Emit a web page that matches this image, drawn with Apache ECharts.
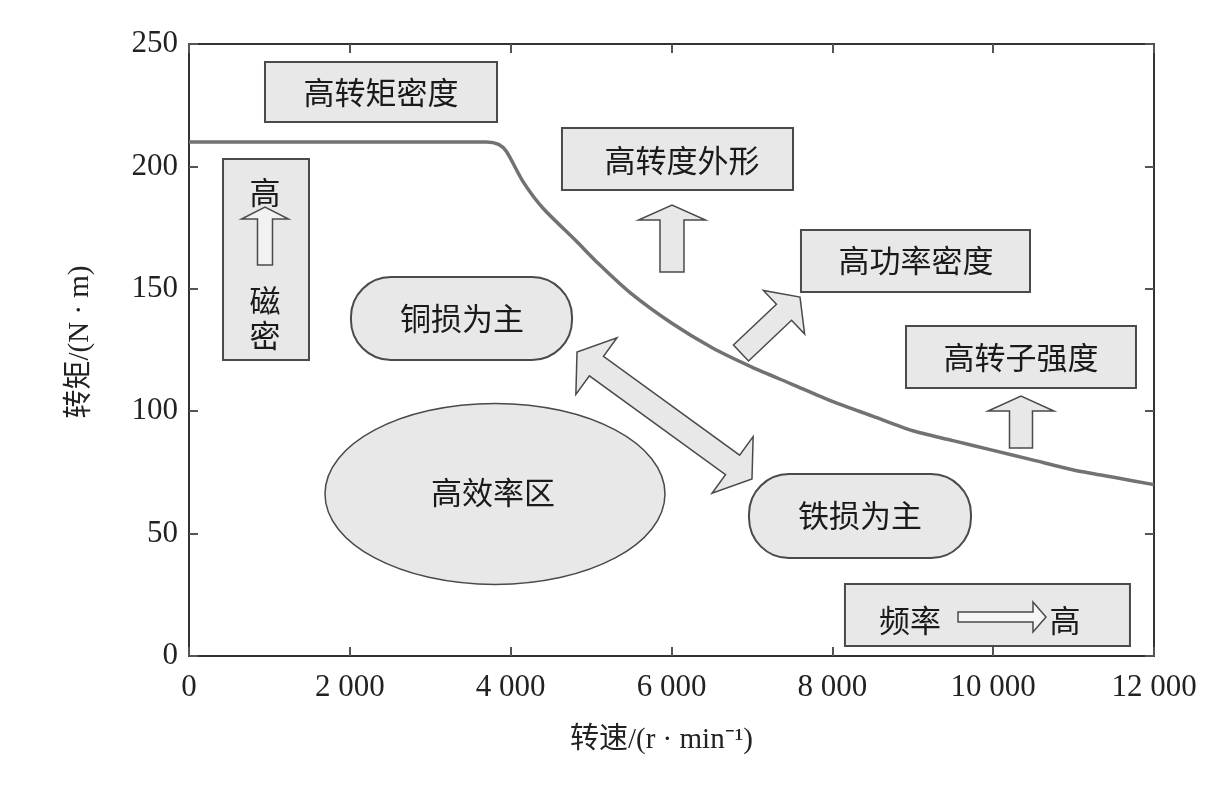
<!DOCTYPE html>
<html>
<head>
<meta charset="utf-8">
<script src="https://cdn.jsdelivr.net/npm/echarts@6/dist/echarts.min.js"></script>
<style>
  html, body { margin: 0; padding: 0; background: #fff; }
  #chart { width: 1221px; height: 790px; }
</style>
</head>
<body>
<div id="chart"></div>
<script>
// 外特性曲线 (转速 r/min, 转矩 N·m)
var speedPts = [0, 3700, 3850, 3950, 4150, 4400, 4800, 5100, 5500, 6000, 6500, 7000, 7500, 8000, 8500, 9000, 9500, 10000, 10500, 11000, 11500, 12000]
var torquePts = [210, 210, 209, 206, 194, 183, 170, 160, 148, 136, 126, 118, 111, 104, 98, 92, 88, 84, 80, 76, 73, 70]

var xTicks = [0, 2000, 4000, 6000, 8000, 10000, 12000]
var yTicks = [0, 50, 100, 150, 200, 250]

var xName = '转速/(r · min⁻¹)'
var yName = '转矩/(N · m)'

// 图中标注文字
var boxTexts = ['高转矩密度', '高转度外形', '高功率密度', '高转子强度']
var pillTexts = ['铜损为主', '铁损为主']
var ellipseText = '高效率区'
var fluxTexts = ['高', '磁', '密']
var freqTexts = ['频率', '高']

var chart = echarts.init(document.getElementById('chart'))

var cjk = '"Noto Sans CJK SC", sans-serif'
var fill = '#e8e8e8'
var edge = '#4a4a4a'

// 箭头多边形 (像素坐标)
function arrowPts (p0, p1, w, hw, hl, both) {
  var dx = p1[0] - p0[0], dy = p1[1] - p0[1]
  var len = Math.sqrt(dx * dx + dy * dy)
  var ux = dx / len, uy = dy / len
  var nx = -uy, ny = ux
  function at (t, s) { return [p0[0] + ux * t + nx * s, p0[1] + uy * t + ny * s] }
  var pts = []
  if (both) {
    pts.push(p0, at(hl, hw / 2), at(hl, w / 2))
  } else {
    pts.push(at(0, w / 2))
  }
  pts.push(at(len - hl, w / 2), at(len - hl, hw / 2), p1, at(len - hl, -hw / 2), at(len - hl, -w / 2))
  if (both) {
    pts.push(at(hl, -w / 2), at(hl, -hw / 2))
  } else {
    pts.push(at(0, -w / 2))
  }
  return pts
}

function label (api, x, y, txt, size) {
  var p = api.coord([x, y])
  return {
    type: 'text', x: p[0], y: p[1], z2: 10,
    style: { text: txt, align: 'center', verticalAlign: 'middle', fontSize: size || 31, fontFamily: cjk, fill: '#1a1a1a' }
  }
}

function rectEl (api, x0, y0, x1, y1, r) {
  var a = api.coord([x0, y0]), b = api.coord([x1, y1])
  return {
    type: 'rect',
    shape: { x: Math.min(a[0], b[0]), y: Math.min(a[1], b[1]), width: Math.abs(b[0] - a[0]), height: Math.abs(b[1] - a[1]), r: r || 0 },
    style: { fill: fill, stroke: edge, lineWidth: 2 }
  }
}

function arrowEl (api, from, to, w, hw, hl, both, f) {
  return {
    type: 'polygon',
    shape: { points: arrowPts(api.coord(from), api.coord(to), w, hw, hl, both) },
    style: { fill: f || fill, stroke: edge, lineWidth: 1.5 }
  }
}

var annotations = [
  function (api) {
    return [rectEl(api, 945, 242.6, 3830, 218.1), label(api, 2387, 230.4, boxTexts[0])]
  },
  function (api) {
    return [
      rectEl(api, 423, 203, 1492, 120.9),
      label(api, 945, 189.5, fluxTexts[0]),
      arrowEl(api, [945, 159.7], [945, 183.4], 15, 47, 12, false, '#f2f2f2'),
      label(api, 945, 145.4, fluxTexts[1]),
      label(api, 945, 131.1, fluxTexts[2])
    ]
  },
  function (api) {
    return [
      rectEl(api, 4638, 215.7, 7511, 190.4), label(api, 6131, 202.6, boxTexts[1]),
      arrowEl(api, [6006, 156.9], [6006, 184.2], 24, 67, 15)
    ]
  },
  function (api) {
    return [
      rectEl(api, 7610, 174, 10458, 148.7), label(api, 9040, 161.8, boxTexts[2]),
      arrowEl(api, [6864, 123.8], [7598, 146.6], 22, 60, 22)
    ]
  },
  function (api) {
    return [
      rectEl(api, 8916, 134.8, 11776, 109.5), label(api, 10346, 122.1, boxTexts[3]),
      arrowEl(api, [10346, 85], [10346, 106.2], 23, 66, 15)
    ]
  },
  function (api) {
    return [rectEl(api, 2014, 154.8, 4763, 120.9, 40), label(api, 3395, 138.1, pillTexts[0])]
  },
  function (api) {
    var c = api.coord([3805, 66.2])
    return [
      { type: 'ellipse', shape: { cx: c[0], cy: c[1], rx: 170, ry: 90.5 }, style: { fill: fill, stroke: edge, lineWidth: 1.5 } },
      label(api, 3780, 67, ellipseText)
    ]
  },
  function (api) {
    return [rectEl(api, 6964, 74.3, 9724, 40, 40), label(api, 8344, 57.6, pillTexts[1])]
  },
  function (api) {
    return [arrowEl(api, [4825, 124.2], [7001, 72.3], 24, 70, 24, true)]
  },
  function (api) {
    return [
      rectEl(api, 8157, 29.4, 11701, 4.1),
      label(api, 8966, 14.7, freqTexts[0]),
      arrowEl(api, [9563, 15.9], [10657, 15.9], 10, 30, 13, false, '#f6f6f6'),
      label(api, 10893, 14.7, freqTexts[1])
    ]
  }
]

var curve = speedPts.map(function (s, i) { return [s, torquePts[i]] })

var serif = '"Liberation Serif", "Times New Roman", serif'
var axisLine = { show: true, onZero: false, lineStyle: { color: '#333', width: 2 } }
var tickIn = { show: true, inside: true, length: 9, lineStyle: { color: '#555', width: 2 } }

var option = {
  backgroundColor: '#fff',
  animation: false,
  grid: { left: 189, right: 67, top: 44, bottom: 134, containLabel: false },
  xAxis: [
    {
      type: 'value', min: 0, max: 12000, interval: 2000, position: 'bottom',
      name: xName, nameLocation: 'middle', nameGap: 70,
      nameTextStyle: { fontFamily: serif + ', ' + cjk, fontSize: 29, color: '#222', padding: [0, 20, 0, 0] },
      axisLine: axisLine, axisTick: tickIn, splitLine: { show: false },
      axisLabel: {
        margin: 16, fontFamily: serif, fontSize: 31, color: '#222',
        formatter: function (v) { return v >= 1000 ? Math.floor(v / 1000) + ' 000' : String(v) }
      }
    },
    {
      type: 'value', min: 0, max: 12000, interval: 2000, position: 'top',
      axisLine: axisLine, axisTick: tickIn, axisLabel: { show: false }, splitLine: { show: false }
    }
  ],
  yAxis: [
    {
      type: 'value', min: 0, max: 250, interval: 50, position: 'left',
      name: yName, nameLocation: 'middle', nameGap: 94, nameRotate: 90,
      nameTextStyle: { fontFamily: serif + ', ' + cjk, fontSize: 29, color: '#222', padding: [0, 0, 0, 16] },
      axisLine: axisLine, axisTick: tickIn, splitLine: { show: false },
      axisLabel: { margin: 11, fontFamily: serif, fontSize: 31, color: '#222' }
    },
    {
      type: 'value', min: 0, max: 250, interval: 50, position: 'right',
      axisLine: axisLine, axisTick: tickIn, axisLabel: { show: false }, splitLine: { show: false }
    }
  ],
  series: [
    {
      type: 'custom',
      coordinateSystem: 'cartesian2d',
      silent: true,
      clip: false,
      z: 1,
      data: annotations.map(function (f, i) { return [0, 0, i] }),
      renderItem: function (params, api) {
        return { type: 'group', children: annotations[params.dataIndex](api) }
      }
    },
    {
      type: 'line',
      data: curve,
      smooth: 0.25,
      symbol: 'none',
      z: 3,
      lineStyle: { color: '#727272', width: 3.5 }
    }
  ]
}
chart.setOption(option)
</script>
</body>
</html>
